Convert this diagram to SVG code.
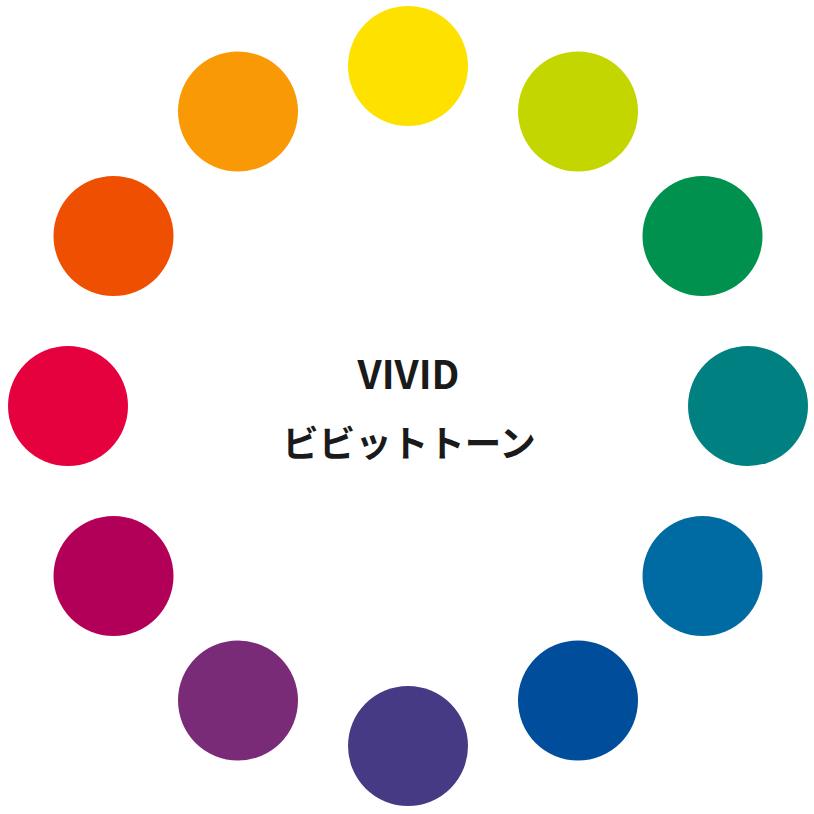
<svg xmlns="http://www.w3.org/2000/svg" width="814" height="814" viewBox="0 0 814 814">
<style>
.dot{stroke:none}
.t{font-family:"Noto Sans CJK JP","Noto Sans",sans-serif;font-weight:700;fill:#1a1a1a;text-anchor:middle}
</style>
<rect width="814" height="814" fill="#fff"/>
<g id="c0"><circle class="dot" cx="408" cy="66" r="60" fill="#FFE100"/></g>
<g id="c1"><circle class="dot" cx="578" cy="111.5" r="60" fill="#C4D600"/></g>
<g id="c2"><circle class="dot" cx="702.5" cy="236" r="60" fill="#00914F"/></g>
<g id="c3"><circle class="dot" cx="748" cy="406" r="60" fill="#008080"/></g>
<g id="c4"><circle class="dot" cx="702.5" cy="576" r="60" fill="#006BA3"/></g>
<g id="c5"><circle class="dot" cx="578" cy="700.5" r="60" fill="#004E9B"/></g>
<g id="c6"><circle class="dot" cx="408" cy="746" r="60" fill="#463A84"/></g>
<g id="c7"><circle class="dot" cx="238" cy="700.5" r="60" fill="#7A2B78"/></g>
<g id="c8"><circle class="dot" cx="113.5" cy="576" r="60" fill="#B20058"/></g>
<g id="c9"><circle class="dot" cx="68" cy="406" r="60" fill="#E5003E"/></g>
<g id="c10"><circle class="dot" cx="113.5" cy="236" r="60" fill="#EE4F00"/></g>
<g id="c11"><circle class="dot" cx="238" cy="111.5" r="60" fill="#FA9906"/></g>
<g id="label">
<text class="t" x="408.5" y="389" font-size="39">VIVID</text>
<text class="t" x="409" y="457" font-size="36.5">ビビットトーン</text>
</g>
</svg>
